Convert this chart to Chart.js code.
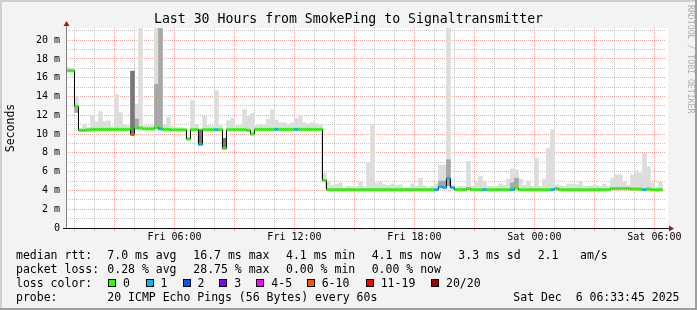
<!DOCTYPE html>
<html>
<head>
<meta charset="utf-8">
<title>SmokePing - Signaltransmitter</title>
<script src="https://cdn.jsdelivr.net/npm/chart.js@4.4.1/dist/chart.umd.min.js"></script>
<style>
  body { margin: 0; background: #f3f3f3; }
  #wrap { position: relative; width: 697px; height: 310px; background: #f3f3f3; overflow: hidden; }
  #chart { position: absolute; left: 0; top: 0; }
  .lg { position: absolute; font: 11.5px 'DejaVu Sans Mono', monospace; line-height: 14px; color: #000; white-space: pre; }
  .sw { position: absolute; width: 6px; height: 6px; border: 1px solid #000; }
</style>
</head>
<body>
<div id="wrap">
  <canvas id="chart" width="697" height="310"></canvas>
  <div id="legend"></div>
</div>
<script>
// time axis is in hours since Fri 00:00
const timeTicks = [6, 12, 18, 24, 30];
const timeTickText = ['Fri 06:00', 'Fri 12:00', 'Fri 18:00', 'Sat 00:00', 'Sat 06:00'];
const yTicks = [0, 2, 4, 6, 8, 10, 12, 14, 16, 18, 20];
const yTickText = ['0', '2 m', '4 m', '6 m', '8 m', '10 m', '12 m', '14 m', '16 m', '18 m', '20 m'];

// 12 minute consolidated rows, first one starts Fri 00:36
const binStartHour = 0.6;
const binHours = 0.2;

// median rtt per row (ms)
const median = [
  16.75, 16.75, 12.95, 10.4, 10.4, 10.45, 10.5, 10.5, 10.5, 10.5,
  10.5, 10.5, 10.5, 10.5, 10.5, 10.5, 9.96, 10.65, 10.65, 10.55,
  10.55, 10.55, 10.7, 10.55, 10.5, 10.5, 10.45, 10.45, 10.45, 10.45,
  9.47, 10.47, 10.47, 8.9, 10.47, 10.47, 10.47, 10.47, 10.47, 8.48,
  10.47, 10.47, 10.47, 10.47, 10.47, 10.4, 10.0, 10.5, 10.5, 10.5,
  10.5, 10.5, 10.5, 10.5, 10.5, 10.5, 10.5, 10.5, 10.5, 10.5,
  10.5, 10.5, 10.5, 10.5, 5.07, 4.08, 4.08, 4.08, 4.08, 4.08,
  4.08, 4.08, 4.08, 4.08, 4.08, 4.08, 4.08, 4.08, 4.08, 4.08,
  4.08, 4.08, 4.08, 4.08, 4.08, 4.08, 4.08, 4.08, 4.08, 4.08,
  4.08, 4.08, 4.08, 4.4, 4.3, 5.28, 4.3, 4.08, 4.08, 4.08,
  4.2, 4.08, 4.08, 4.08, 4.08, 4.08, 4.08, 4.08, 4.08, 4.08,
  4.08, 4.08, 4.25, 4.08, 4.08, 4.08, 4.08, 4.08, 4.08, 4.08,
  4.08, 4.08, 4.2, 4.08, 4.08, 4.08, 4.08, 4.08, 4.08, 4.08,
  4.08, 4.08, 4.08, 4.08, 4.08, 4.08, 4.2, 4.2, 4.2, 4.2,
  4.2, 4.15, 4.15, 4.15, 4.08, 4.15, 4.08, 4.08, 4.08
];

// top of the smoke per row (ms)
const smokeTop = [
  17.1, 17.0, 14.0, 10.6, 11.0, 10.7, 11.96, 11.32, 12.4, 11.32,
  11.42, 10.8, 14.2, 12.3, 11.0, 10.9, 16.7, 13.2, 21.3, 10.9,
  10.9, 10.9, 21.3, 21.3, 11.0, 11.78, 10.8, 10.7, 10.7, 10.6,
  9.7, 13.6, 11.0, 10.6, 11.89, 10.9, 10.9, 14.6, 10.9, 9.6,
  11.42, 11.67, 10.9, 10.9, 12.6, 11.9, 12.2, 10.9, 11.0, 10.9,
  11.6, 12.6, 11.5, 11.2, 11.2, 11.0, 11.2, 11.64, 12.0, 11.2,
  11.1, 11.2, 11.1, 11.0, 5.8, 5.0, 4.55, 4.65, 4.79, 4.26,
  4.44, 4.4, 4.4, 4.86, 4.4, 6.9, 11.0, 4.79, 4.86, 4.6,
  4.55, 4.7, 4.55, 4.6, 4.26, 4.26, 4.7, 4.44, 5.3, 4.5,
  4.26, 4.44, 4.7, 6.7, 6.7, 21.3, 4.5, 4.26, 4.44, 4.44,
  7.1, 4.44, 4.86, 5.5, 5.0, 4.44, 4.44, 4.44, 4.7, 4.55,
  5.2, 6.3, 6.2, 5.2, 4.55, 5.0, 4.44, 7.4, 4.44, 5.2,
  8.5, 10.47, 4.6, 4.5, 4.44, 4.7, 4.7, 4.6, 4.94, 4.44,
  4.44, 4.5, 4.55, 4.44, 4.65, 4.44, 5.3, 5.67, 5.67, 4.9,
  4.55, 5.67, 6.1, 5.85, 7.93, 6.55, 4.79, 4.26, 4.86
];

// loss class per row, index into lossLabels
const lossClass = [
  0, 0, 0, 0, 0, 0, 0, 0, 0, 0,
  0, 0, 0, 0, 0, 0, 5, 0, 0, 0,
  0, 0, 0, 1, 0, 0, 0, 0, 0, 0,
  0, 0, 0, 1, 0, 0, 0, 1, 0, 0,
  0, 0, 0, 0, 0, 0, 0, 0, 0, 0,
  0, 0, 1, 0, 0, 0, 0, 1, 0, 0,
  0, 0, 0, 0, 0, 0, 0, 0, 0, 0,
  0, 0, 0, 0, 0, 0, 0, 0, 0, 0,
  0, 0, 0, 0, 0, 0, 0, 0, 0, 0,
  0, 0, 1, 1, 1, 1, 1, 0, 0, 0,
  0, 0, 0, 0, 1, 0, 0, 0, 0, 0,
  0, 1, 0, 0, 0, 0, 0, 0, 0, 0,
  0, 1, 0, 0, 0, 0, 0, 0, 0, 0,
  0, 0, 0, 0, 0, 0, 0, 0, 0, 0,
  0, 0, 0, 0, 1, 0, 0, 0, 0
];

// rows where many pings cluster (denser smoke)
const midSmoke = [
  { bin: 2, lo: 12.3, hi: 12.95 }, { bin: 17, lo: 10.65, hi: 11.6 },
  { bin: 22, lo: 10.7, hi: 15.3 }, { bin: 23, lo: 10.55, hi: 21.3 },
  { bin: 93, lo: 4.4, hi: 5.0 }, { bin: 94, lo: 4.3, hi: 5.0 },
  { bin: 95, lo: 4.5, hi: 7.27 }, { bin: 111, lo: 4.08, hi: 4.8 },
  { bin: 112, lo: 4.25, hi: 5.3 }
];
const darkSmoke = [
  { bin: 16, lo: 9.96, hi: 16.7 }, { bin: 33, lo: 8.9, hi: 10.47 },
  { bin: 39, lo: 8.48, hi: 9.55 }
];

const lossLabels = ['0', '1', '2', '3', '4-5', '6-10', '11-19', '20/20'];
const rttStats = ['7.0 ms avg', '16.7 ms max', '4.1 ms min', '4.1 ms now', '3.3 ms sd', '2.1', 'am/s'];
const lossStats = ['0.28 % avg', '28.75 % max', '0.00 % min', '0.00 % now'];
const probeText = '20 ICMP Echo Pings (56 Bytes) every 60s';
const stampText = 'Sat Dec  6 06:33:45 2025';

const lossColors = ['#26ff00', '#00b8ff', '#0059ff', '#7e00ff', '#ff00ff', '#ff5500', '#ff0000', '#a10000'];
const redGrid = 'rgba(240, 90, 90, 0.55)';
const grayGrid = 'rgba(150, 150, 150, 0.55)';

function binTime(i) {
  return binStartHour + i * binHours;
}

// build chart data from the arrays above
const lightBars = median.map((m, i) => ({ x: binTime(i) + binHours / 2, y: [m, smokeTop[i]] }));
const midBars = midSmoke.map(s => ({ x: binTime(s.bin) + binHours / 2, y: [s.lo, s.hi] }));
const darkBars = darkSmoke.map(s => ({ x: binTime(s.bin) + binHours / 2, y: [s.lo, s.hi] }));
const medianPts = [];
median.forEach((m, i) => {
  medianPts.push({ x: binTime(i), y: m }, { x: binTime(i + 1), y: m });
});

// background, frame, axes with arrows, watermark
const rrdLook = {
  id: 'rrdLook',
  beforeDraw(chart) {
    const { ctx, chartArea: a } = chart;
    ctx.save();
    ctx.fillStyle = '#f3f3f3';
    ctx.fillRect(0, 0, 697, 310);
    ctx.fillStyle = '#ffffff';
    ctx.fillRect(a.left, a.top, a.right - a.left + 2, a.bottom - a.top);
    ctx.fillStyle = '#cfcfcf';
    ctx.fillRect(0, 0, 697, 2);
    ctx.fillRect(0, 0, 2, 310);
    ctx.fillStyle = '#9e9e9e';
    ctx.fillRect(0, 308, 697, 2);
    ctx.fillRect(695, 0, 2, 310);
    ctx.restore();
  },
  afterDatasetsDraw(chart) {
    const { ctx, chartArea: a } = chart;
    const x0 = a.left + 0.5;
    const y0 = a.bottom + 0.5;
    ctx.save();
    ctx.lineWidth = 1;
    ctx.strokeStyle = '#808080';
    ctx.beginPath();
    ctx.moveTo(x0, y0);
    ctx.lineTo(x0, a.top - 3);
    ctx.stroke();
    ctx.strokeStyle = '#111';
    ctx.beginPath();
    ctx.moveTo(a.left - 3, y0);
    ctx.lineTo(a.right + 4, y0);
    ctx.stroke();
    ctx.fillStyle = '#a01818';
    ctx.beginPath();
    ctx.moveTo(x0 - 3, a.top - 2);
    ctx.lineTo(x0 + 3, a.top - 2);
    ctx.lineTo(x0, a.top - 7);
    ctx.closePath();
    ctx.fill();
    ctx.beginPath();
    ctx.moveTo(a.right + 3, y0 - 3);
    ctx.lineTo(a.right + 3, y0 + 3);
    ctx.lineTo(a.right + 8, y0);
    ctx.closePath();
    ctx.fill();
    ctx.restore();
  },
  afterDraw(chart) {
    const ctx = chart.ctx;
    ctx.save();
    ctx.translate(690, 5);
    ctx.rotate(Math.PI / 2);
    ctx.font = "8.2px 'DejaVu Sans Mono'";
    ctx.fillStyle = '#b0b0b0';
    ctx.textBaseline = 'middle';
    ctx.fillText('RRDTOOL / TOBI OETIKER', 0, 0);
    ctx.restore();
  }
};

Chart.defaults.font.family = "'DejaVu Sans Mono', monospace";
Chart.defaults.color = '#000';

new Chart(document.getElementById('chart'), {
  type: 'bar',
  data: {
    datasets: [
      { label: 'smoke', data: lightBars, backgroundColor: '#dddddd', grouped: false,
        categoryPercentage: 1, barPercentage: 1, borderWidth: 0, order: 5 },
      { label: 'smoke mid', data: midBars, backgroundColor: '#a8a8a8', grouped: false,
        categoryPercentage: 1, barPercentage: 1, borderWidth: 0, order: 4 },
      { label: 'smoke dark', data: darkBars, backgroundColor: '#787878', grouped: false,
        categoryPercentage: 1, barPercentage: 1, borderWidth: 0, order: 3 },
      { type: 'line', label: 'median', data: medianPts, borderColor: '#000', borderWidth: 1,
        pointRadius: 0, fill: false, tension: 0, order: 2 },
      { type: 'line', label: 'median loss', data: medianPts, borderWidth: 3, borderCapStyle: 'butt',
        pointRadius: 0, fill: false, tension: 0, order: 1,
        borderColor: lossColors[0],
        segment: {
          borderColor: c => (c.p0DataIndex % 2 === 0)
            ? lossColors[lossClass[c.p0DataIndex / 2]]
            : 'rgba(0,0,0,0)'
        } }
    ]
  },
  options: {
    responsive: false,
    devicePixelRatio: 1,
    animation: false,
    layout: { padding: { left: 0, right: 0, top: 0, bottom: 62 } },
    plugins: {
      legend: { display: false },
      tooltip: { enabled: false },
      title: {
        display: true,
        text: 'Last 30 Hours from SmokePing to Signaltransmitter',
        font: { size: 13.2, weight: 'normal' },
        color: '#000',
        padding: { top: 12, bottom: 0.16 }
      }
    },
    scales: {
      x: {
        type: 'linear',
        min: 0.575,
        max: 30.58,
        offset: false,
        afterFit: s => { s.height = 20; },
        grid: {
          offset: false,
          color: c => (c.tick.value % 3 === 0 ? redGrid : grayGrid),
          tickColor: c => (c.tick.value % 3 === 0 ? redGrid : grayGrid),
          tickLength: 3
        },
        border: { display: false, dash: [1, 1] },
        ticks: {
          stepSize: 1,
          includeBounds: false,
          autoSkip: false,
          maxRotation: 0,
          minRotation: 0,
          padding: 0,
          font: { size: 10 },
          callback: v => {
            const k = timeTicks.indexOf(v);
            return k >= 0 ? timeTickText[k] : '';
          }
        }
      },
      y: {
        type: 'linear',
        min: 0,
        max: 21.3,
        afterFit: s => { s.width = 66; },
        grid: {
          color: c => (c.tick.value % 2 === 0 ? redGrid : grayGrid),
          tickColor: 'rgba(0,0,0,0)',
          tickLength: 3
        },
        border: { display: false, dash: [1, 1] },
        title: {
          display: true,
          text: 'Seconds',
          font: { size: 11.5 },
          color: '#000',
          padding: { top: 4, bottom: 0 }
        },
        ticks: {
          stepSize: 1,
          includeBounds: false,
          autoSkip: false,
          padding: 3,
          font: { size: 10 },
          callback: v => {
            const k = yTicks.indexOf(v);
            return k >= 0 ? yTickText[k] : '';
          }
        }
      },
      // empty right margin so the title centres on the whole image
      yRight: {
        type: 'linear',
        position: 'right',
        min: 0,
        max: 1,
        afterFit: s => { s.width = 31; },
        grid: { drawOnChartArea: false, drawTicks: false },
        border: { display: false },
        ticks: { display: false }
      }
    }
  },
  plugins: [rrdLook]
});

// text legend below the graph
const legend = document.getElementById('legend');
function addText(txt, x, y, right) {
  const el = document.createElement('div');
  el.className = 'lg';
  el.textContent = txt;
  el.style.top = y + 'px';
  if (right) {
    el.style.right = (697 - x) + 'px';
  } else {
    el.style.left = x + 'px';
  }
  legend.appendChild(el);
}
const statCols = [107.3, 193.3, 286, 371.7, 458.3, 537.7, 580];
const rowTop = [248, 262, 276, 290];
addText('median rtt:', 16, rowTop[0]);
rttStats.forEach((t, i) => addText(t, statCols[i], rowTop[0]));
addText('packet loss:', 16, rowTop[1]);
lossStats.forEach((t, i) => addText(t, statCols[i], rowTop[1]));
addText('loss color:', 16, rowTop[2]);
const swatchX = [108, 145.5, 182.5, 219.3, 256.3, 306.7, 365.7, 431];
lossLabels.forEach((t, i) => {
  const sw = document.createElement('div');
  sw.className = 'sw';
  sw.style.left = swatchX[i] + 'px';
  sw.style.top = '278.5px';
  sw.style.background = lossColors[i];
  legend.appendChild(sw);
  addText(t, swatchX[i] + 15, rowTop[2]);
});
addText('probe:', 16, rowTop[3]);
addText(probeText, 107.3, rowTop[3]);
addText(stampText, 679.5, rowTop[3], true);
</script>
</body>
</html>
